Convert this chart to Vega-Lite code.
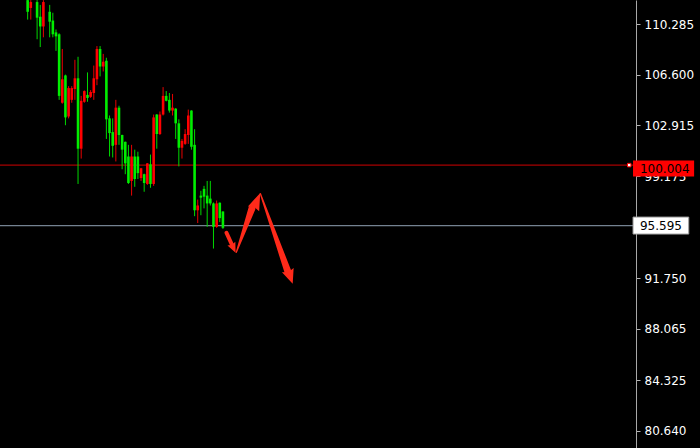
{
  "$schema": "https://vega.github.io/schema/vega-lite/v6.json",
  "width": 636,
  "height": 448,
  "autosize": {"type": "none"},
  "padding": {"left": 0, "top": 0, "right": 64, "bottom": 0},
  "background": "#000000",
  "config": {"view": {"stroke": null, "fill": "#000000"}, "font": "DejaVu Sans"},
  "datasets": {
    "candles": [
      {"t": 0, "o": 111.18, "h": 112.25, "l": 110.61, "c": 112.03},
      {"t": 1, "o": 111.89, "h": 112.03, "l": 110.61, "c": 111.46},
      {"t": 3, "o": 110.75, "h": 112.03, "l": 109.18, "c": 111.89},
      {"t": 4, "o": 110.11, "h": 111.68, "l": 108.61, "c": 110.82},
      {"t": 5, "o": 111.89, "h": 112.03, "l": 109.32, "c": 110.11},
      {"t": 7, "o": 110.46, "h": 111.68, "l": 109.32, "c": 111.18},
      {"t": 8, "o": 109.54, "h": 111.11, "l": 109.32, "c": 110.54},
      {"t": 9, "o": 109.39, "h": 109.89, "l": 108.33, "c": 109.68},
      {"t": 10, "o": 105.05, "h": 109.61, "l": 104.76, "c": 109.54},
      {"t": 11, "o": 106.26, "h": 108.47, "l": 104.48, "c": 104.55},
      {"t": 12, "o": 103.48, "h": 106.6, "l": 102.91, "c": 106.54},
      {"t": 13, "o": 105.62, "h": 105.76, "l": 103.41, "c": 103.55},
      {"t": 14, "o": 105.62, "h": 105.76, "l": 104.55, "c": 104.76},
      {"t": 15, "o": 106.33, "h": 107.68, "l": 104.76, "c": 105.55},
      {"t": 16, "o": 101.2, "h": 107.9, "l": 98.63, "c": 106.33},
      {"t": 17, "o": 104.69, "h": 105.05, "l": 100.48, "c": 101.2},
      {"t": 18, "o": 105.4, "h": 105.45, "l": 104.55, "c": 104.62},
      {"t": 19, "o": 104.9, "h": 106.76, "l": 104.62, "c": 105.12},
      {"t": 20, "o": 105.33, "h": 105.47, "l": 104.9, "c": 104.98},
      {"t": 21, "o": 106.33, "h": 107.26, "l": 104.76, "c": 105.26},
      {"t": 22, "o": 108.47, "h": 108.68, "l": 105.83, "c": 106.26},
      {"t": 23, "o": 107.19, "h": 108.68, "l": 106.47, "c": 108.47},
      {"t": 24, "o": 107.54, "h": 108.11, "l": 106.83, "c": 107.19},
      {"t": 25, "o": 103.34, "h": 107.83, "l": 101.91, "c": 107.61},
      {"t": 26, "o": 102.34, "h": 103.62, "l": 100.63, "c": 103.41},
      {"t": 27, "o": 101.41, "h": 103.41, "l": 100.56, "c": 102.41},
      {"t": 28, "o": 104.19, "h": 104.76, "l": 100.27, "c": 101.48},
      {"t": 29, "o": 102.2, "h": 104.33, "l": 101.48, "c": 104.19},
      {"t": 30, "o": 101.13, "h": 102.22, "l": 99.7, "c": 102.2},
      {"t": 31, "o": 100.13, "h": 101.72, "l": 99.34, "c": 101.7},
      {"t": 32, "o": 98.7, "h": 101.48, "l": 98.63, "c": 100.63},
      {"t": 33, "o": 100.63, "h": 101.48, "l": 97.78, "c": 98.85},
      {"t": 34, "o": 98.99, "h": 101.13, "l": 98.42, "c": 100.63},
      {"t": 35, "o": 99.42, "h": 100.98, "l": 98.99, "c": 100.63},
      {"t": 36, "o": 99.77, "h": 99.8, "l": 98.85, "c": 99.06},
      {"t": 37, "o": 98.7, "h": 99.38, "l": 98.06, "c": 99.34},
      {"t": 38, "o": 100.13, "h": 100.15, "l": 98.56, "c": 98.63},
      {"t": 39, "o": 98.63, "h": 100.77, "l": 98.35, "c": 100.06},
      {"t": 40, "o": 103.48, "h": 103.69, "l": 98.49, "c": 98.63},
      {"t": 41, "o": 102.27, "h": 103.72, "l": 101.2, "c": 103.69},
      {"t": 42, "o": 103.69, "h": 103.91, "l": 102.2, "c": 102.27},
      {"t": 43, "o": 105.05, "h": 105.69, "l": 103.62, "c": 103.69},
      {"t": 44, "o": 104.69, "h": 105.4, "l": 104.65, "c": 105.05},
      {"t": 45, "o": 103.98, "h": 105.26, "l": 103.83, "c": 104.76},
      {"t": 46, "o": 104.19, "h": 105.19, "l": 103.62, "c": 103.98},
      {"t": 47, "o": 103.05, "h": 104.15, "l": 101.91, "c": 104.12},
      {"t": 48, "o": 101.27, "h": 103.34, "l": 99.91, "c": 103.05},
      {"t": 49, "o": 101.77, "h": 101.91, "l": 100.48, "c": 101.27},
      {"t": 50, "o": 102.27, "h": 102.62, "l": 101.48, "c": 101.55},
      {"t": 51, "o": 103.62, "h": 104.05, "l": 101.55, "c": 102.2},
      {"t": 52, "o": 101.34, "h": 104.0, "l": 101.13, "c": 103.98},
      {"t": 53, "o": 96.71, "h": 102.62, "l": 96.28, "c": 101.48},
      {"t": 54, "o": 97.06, "h": 97.49, "l": 95.78, "c": 96.71},
      {"t": 55, "o": 97.63, "h": 98.13, "l": 96.35, "c": 97.78},
      {"t": 56, "o": 97.7, "h": 98.49, "l": 96.85, "c": 98.27},
      {"t": 57, "o": 97.21, "h": 98.85, "l": 95.5, "c": 97.78},
      {"t": 58, "o": 97.21, "h": 98.85, "l": 97.06, "c": 97.56},
      {"t": 59, "o": 95.5, "h": 97.28, "l": 93.92, "c": 97.21},
      {"t": 60, "o": 97.21, "h": 97.42, "l": 95.43, "c": 95.5},
      {"t": 61, "o": 96.14, "h": 97.28, "l": 95.85, "c": 97.26},
      {"t": 62, "o": 95.43, "h": 96.64, "l": 95.35, "c": 96.62}
    ],
    "levels": [
      {"name": "ask", "p": 100.004, "label": "100.004"},
      {"name": "bid", "p": 95.595, "label": "95.595"}
    ],
    "shafts": [
      {"id": "a1", "k": 0, "t": 63.12, "p": 95.07},
      {"id": "a1", "k": 1, "t": 64.98, "p": 94.14},
      {"id": "a2", "k": 0, "t": 66.25, "p": 93.64},
      {"id": "a2", "k": 1, "t": 71.19, "p": 96.83},
      {"id": "a3", "k": 0, "t": 73.9, "p": 97.92},
      {"id": "a3", "k": 1, "t": 82.65, "p": 92.22}
    ],
    "tips": [
      {"id": "a1", "t": 66.03, "p": 93.62},
      {"id": "a2", "t": 73.84, "p": 97.97},
      {"id": "a3", "t": 84.15, "p": 91.36}
    ]
  },
  "layer": [
    {
      "data": {"name": "levels"},
      "transform": [{"filter": "datum.name === 'ask'"}],
      "mark": {"type": "rule", "color": "#d00000", "strokeWidth": 1},
      "encoding": {
        "y": {"field": "p", "type": "quantitative", "scale": {"domain": [79.745, 111.675], "nice": false, "zero": false},
          "axis": {"orient": "right", "values": [110.285, 106.6, 102.915, 99.175, 95.595, 91.75, 88.065, 84.325, 80.64], "format": ".3f", "labelColor": "#ffffff", "labelFont": "DejaVu Sans", "labelFontSize": 12, "tickColor": "#b4b4b4", "tickSize": 4, "domainColor": "#a8a8a8", "grid": false, "title": null, "labelPadding": 4, "labelOverlap": false, "labelFlush": false}}
      }
    },
    {
      "data": {"name": "levels"},
      "transform": [{"filter": "datum.name === 'bid'"}],
      "mark": {"type": "rule", "color": "#748291", "strokeWidth": 1.3},
      "encoding": {
        "y": {"field": "p", "type": "quantitative", "scale": {"domain": [79.745, 111.675], "nice": false, "zero": false}}
      }
    },
    {
      "data": {"name": "candles"},
      "mark": {"type": "rule", "strokeWidth": 1, "clip": true},
      "encoding": {
        "x": {"field": "t", "type": "quantitative", "scale": {"domain": [-7.19, 191.56], "nice": false, "zero": false}, "axis": null},
        "y": {"field": "l", "type": "quantitative", "scale": {"domain": [79.745, 111.675], "nice": false, "zero": false}},
        "y2": {"field": "h"},
        "color": {"condition": {"test": "datum.c >= datum.o", "value": "#00d800"}, "value": "#e80000"}
      }
    },
    {
      "data": {"name": "candles"},
      "mark": {"type": "bar", "size": 2.6, "clip": true},
      "encoding": {
        "x": {"field": "t", "type": "quantitative", "scale": {"domain": [-7.19, 191.56], "nice": false, "zero": false}, "axis": null},
        "y": {"field": "o", "type": "quantitative", "scale": {"domain": [79.745, 111.675], "nice": false, "zero": false}},
        "y2": {"field": "c"},
        "color": {"condition": {"test": "datum.c >= datum.o", "value": "#00ee00"}, "value": "#ff0000"}
      }
    },
    {
      "data": {"name": "shafts"},
      "transform": [{"filter": "datum.id === 'a1'"}],
      "mark": {"type": "trail", "color": "#ff2a1a", "size": 4},
      "encoding": {
        "x": {"field": "t", "type": "quantitative", "scale": {"domain": [-7.19, 191.56], "nice": false, "zero": false}, "axis": null},
        "y": {"field": "p", "type": "quantitative", "scale": {"domain": [79.745, 111.675], "nice": false, "zero": false}},
        "order": {"field": "k"}
      }
    },
    {
      "data": {"name": "shafts"},
      "transform": [{"filter": "datum.id !== 'a1'"}],
      "mark": {"type": "trail", "color": "#ff2a1a"},
      "encoding": {
        "x": {"field": "t", "type": "quantitative", "scale": {"domain": [-7.19, 191.56], "nice": false, "zero": false}, "axis": null},
        "y": {"field": "p", "type": "quantitative", "scale": {"domain": [79.745, 111.675], "nice": false, "zero": false}},
        "detail": {"field": "id"},
        "order": {"field": "k"},
        "size": {"field": "k", "type": "quantitative", "scale": {"domain": [0, 1], "range": [1.3, 7]}, "legend": null}
      }
    },
    {
      "data": {"name": "tips"},
      "transform": [{"filter": "datum.id === 'a1'"}],
      "mark": {"type": "point", "shape": "M0,0L0.5,1.15L0,1.0L-0.5,1.15Z", "filled": true, "color": "#ff2a1a", "opacity": 1, "size": 300, "angle": 155},
      "encoding": {
        "x": {"field": "t", "type": "quantitative", "scale": {"domain": [-7.19, 191.56], "nice": false, "zero": false}, "axis": null},
        "y": {"field": "p", "type": "quantitative", "scale": {"domain": [79.745, 111.675], "nice": false, "zero": false}}
      }
    },
    {
      "data": {"name": "tips"},
      "transform": [{"filter": "datum.id === 'a2'"}],
      "mark": {"type": "point", "shape": "M0,0L0.5,1.4L0,1.25L-0.5,1.4Z", "filled": true, "color": "#ff2a1a", "opacity": 1, "size": 600, "angle": 23},
      "encoding": {
        "x": {"field": "t", "type": "quantitative", "scale": {"domain": [-7.19, 191.56], "nice": false, "zero": false}, "axis": null},
        "y": {"field": "p", "type": "quantitative", "scale": {"domain": [79.745, 111.675], "nice": false, "zero": false}}
      }
    },
    {
      "data": {"name": "tips"},
      "transform": [{"filter": "datum.id === 'a3'"}],
      "mark": {"type": "point", "shape": "M0,0L0.5,1.15L0,1.0L-0.5,1.15Z", "filled": true, "color": "#ff2a1a", "opacity": 1, "size": 620, "angle": 160},
      "encoding": {
        "x": {"field": "t", "type": "quantitative", "scale": {"domain": [-7.19, 191.56], "nice": false, "zero": false}, "axis": null},
        "y": {"field": "p", "type": "quantitative", "scale": {"domain": [79.745, 111.675], "nice": false, "zero": false}}
      }
    },
    {
      "data": {"name": "levels"},
      "transform": [{"filter": "datum.name === 'ask'"}],
      "mark": {"type": "point", "shape": "square", "filled": true, "fill": "#ffffff", "stroke": "#ff0000", "strokeWidth": 1, "opacity": 1, "size": 12},
      "encoding": {
        "x": {"datum": 191.0, "type": "quantitative", "scale": {"domain": [-7.19, 191.56], "nice": false, "zero": false}, "axis": null},
        "y": {"field": "p", "type": "quantitative", "scale": {"domain": [79.745, 111.675], "nice": false, "zero": false}}
      }
    },
    {
      "data": {"name": "levels"},
      "transform": [{"filter": "datum.name === 'ask'"}],
      "mark": {"type": "bar", "orient": "horizontal", "size": 16, "color": "#ff0000", "clip": false, "yOffset": 3.5},
      "encoding": {
        "x": {"datum": 192.2, "type": "quantitative", "scale": {"domain": [-7.19, 191.56], "nice": false, "zero": false}, "axis": null},
        "x2": {"datum": 211.6},
        "y": {"field": "p", "type": "quantitative", "scale": {"domain": [79.745, 111.675], "nice": false, "zero": false}}
      }
    },
    {
      "data": {"name": "levels"},
      "transform": [{"filter": "datum.name === 'bid'"}],
      "mark": {"type": "bar", "orient": "horizontal", "size": 17, "color": "#ffffff", "stroke": "#9a9a9a", "strokeWidth": 1, "clip": false},
      "encoding": {
        "x": {"datum": 192.2, "type": "quantitative", "scale": {"domain": [-7.19, 191.56], "nice": false, "zero": false}, "axis": null},
        "x2": {"datum": 209.9},
        "y": {"field": "p", "type": "quantitative", "scale": {"domain": [79.745, 111.675], "nice": false, "zero": false}}
      }
    },
    {
      "data": {"name": "levels"},
      "transform": [{"filter": "datum.name === 'ask'"}],
      "mark": {"type": "text", "align": "left", "baseline": "middle", "color": "#000000", "font": "DejaVu Sans", "fontSize": 12, "yOffset": 3.5, "clip": false},
      "encoding": {
        "x": {"datum": 194.4, "type": "quantitative", "scale": {"domain": [-7.19, 191.56], "nice": false, "zero": false}, "axis": null},
        "y": {"field": "p", "type": "quantitative", "scale": {"domain": [79.745, 111.675], "nice": false, "zero": false}},
        "text": {"field": "label"}
      }
    },
    {
      "data": {"name": "levels"},
      "transform": [{"filter": "datum.name === 'bid'"}],
      "mark": {"type": "text", "align": "left", "baseline": "middle", "color": "#000000", "font": "DejaVu Sans", "fontSize": 12, "clip": false},
      "encoding": {
        "x": {"datum": 194.4, "type": "quantitative", "scale": {"domain": [-7.19, 191.56], "nice": false, "zero": false}, "axis": null},
        "y": {"field": "p", "type": "quantitative", "scale": {"domain": [79.745, 111.675], "nice": false, "zero": false}},
        "text": {"field": "label"}
      }
    }
  ]
}
